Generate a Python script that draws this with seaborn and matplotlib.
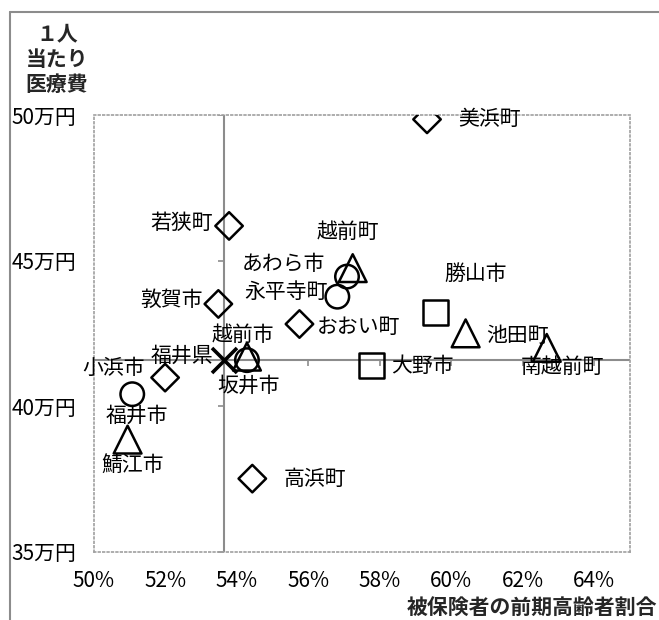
import numpy as np
import pandas as pd
import matplotlib
matplotlib.use('Agg')
from matplotlib import pyplot as plt
from matplotlib.lines import Line2D
import seaborn as sns

# 市町別 前期高齢者割合(%) と 1人当たり医療費(万円)
names = ['美浜町', '若狭町', '越前町', 'あわら市', '永平寺町', '敦賀市', '勝山市', 'おおい町', '池田町',
         '南越前町', '越前市', '坂井市', '大野市', '小浜市', '福井市', '鯖江市', '高浜町']
ratio = [59.32, 53.78, 57.24, 57.08, 56.81, 53.48, 59.57, 55.75, 60.40,
         62.67, 54.28, 54.28, 57.77, 51.99, 51.07, 50.94, 54.43]
cost = [49.85, 46.19, 44.74, 44.45, 43.76, 43.51, 43.23, 42.82, 42.50,
        42.00, 41.70, 41.58, 41.41, 40.98, 40.41, 38.85, 37.51]
area = ['嶺南', '嶺南', '丹南', '福井坂井', '福井坂井', '嶺南', '奥越', '嶺南', '丹南',
        '丹南', '丹南', '福井坂井', '奥越', '嶺南', '福井坂井', '丹南', '嶺南']

pref_name = '福井県'
pref_ratio = 53.64
pref_cost = 41.60

x_ticks = [50, 52, 54, 56, 58, 60, 62, 64]
y_ticks = [35, 40, 45, 50]

df = pd.DataFrame({'name': names, 'ratio': ratio, 'cost': cost, 'area': area})

# ラベル位置 (px: 右, 下) と揃え
label_pos = {
    '美浜町': (31, 0, 'left'), '若狭町': (-16, -3, 'right'), '越前町': (-5, -36, 'center'),
    'あわら市': (-22, -13, 'right'), '永平寺町': (-10, -5, 'right'), '敦賀市': (-15, -4, 'right'),
    '勝山市': (40, -38, 'center'), 'おおい町': (17, 3, 'left'), '池田町': (21, 3, 'left'),
    '南越前町': (16, 19, 'center'), '越前市': (-4, -22, 'center'), '坂井市': (2, 26, 'center'),
    '大野市': (19, 1, 'left'), '小浜市': (-20, -10, 'right'), '福井市': (5, 22, 'center'),
    '鯖江市': (5, 25, 'center'), '高浜町': (31, 0, 'left'), '福井県': (-11, -4, 'right'),
}

sns.set_style('white')
plt.rcParams['font.family'] = ['Noto Sans CJK JP', 'DejaVu Sans']

fig = plt.figure(figsize=(6.59, 6.2), dpi=100)
ax = fig.add_axes([94 / 659, 1 - 551.7 / 620, 536 / 659, 436.7 / 620])

gray = '#8c8c8c'
ax.axvline(pref_ratio, color=gray, lw=1.5, zorder=1)
ax.axhline(pref_cost, color=gray, lw=1.5, zorder=1)
ax.plot(x_ticks[1:], [pref_cost] * (len(x_ticks) - 1), ls='none', marker=3, ms=4, mew=1.2, color=gray, zorder=1)
ax.plot([pref_ratio] * len(y_ticks), y_ticks, ls='none', marker=0, ms=4, mew=1.2, color=gray, zorder=1)

markers = {'嶺南': 'D', '福井坂井': 'o', '丹南': '^', '奥越': 's'}
sizes = {'嶺南': 196, '福井坂井': 286, '丹南': 400, '奥越': 324}
sns.scatterplot(data=df, x='ratio', y='cost', style='area', markers=markers,
                size='area', sizes=sizes, fc='none', edgecolor='black',
                linewidth=1.8, legend=False, ax=ax, zorder=3)
sns.scatterplot(x=[pref_ratio], y=[pref_cost], marker='x', s=324, color='black',
                linewidth=2.6, legend=False, ax=ax, zorder=3)

for n, xv, yv in zip(names + [pref_name], ratio + [pref_ratio], cost + [pref_cost]):
    dx, dy, ha = label_pos[n]
    ax.annotate(n, (xv, yv), xytext=(dx, -dy), textcoords='offset pixels',
                ha=ha, va='center', fontsize=15, color='black', zorder=4)

ax.set_xlim(50, 65)
ax.set_ylim(35, 50)
ax.set_xticks(x_ticks)
ax.set_xticklabels([f'{v}%' for v in x_ticks])
ax.set_yticks(y_ticks)
ax.set_yticklabels([f'{v}万円' for v in y_ticks])
ax.tick_params(axis='both', length=0, labelsize=15, colors='black')
ax.tick_params(axis='x', pad=13)
ax.tick_params(axis='y', pad=13)
ax.set_xlabel('')
ax.set_ylabel('')
for sp in ax.spines.values():
    sp.set_visible(True)
    sp.set_linestyle(':')
    sp.set_color('#a0a0a0')
    sp.set_linewidth(1.2)

fig.text(57 / 659, 1 - 59 / 620, '１人\n当たり\n医療費', ha='center', va='center',
         multialignment='center', fontsize=15, fontweight='bold', linespacing=1.25)
fig.text(657 / 659, 1 - 607 / 620, '被保険者の前期高齢者割合', ha='right', va='center',
         fontsize=15, fontweight='bold')

fig.add_artist(Line2D([10 / 659, 1], [1 - 11.7 / 620] * 2, color=gray, lw=1.5))
fig.add_artist(Line2D([10 / 659] * 2, [0, 1 - 11.7 / 620], color=gray, lw=1.5))

fig.savefig('out.png', dpi=100)
